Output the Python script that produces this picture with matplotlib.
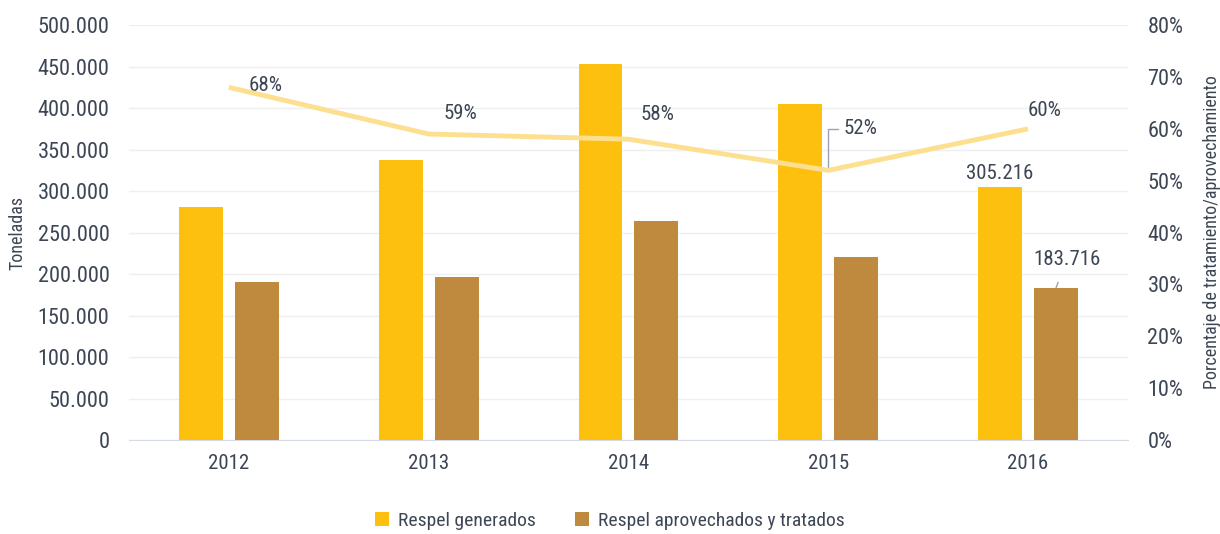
import matplotlib
matplotlib.use("Agg")
import matplotlib.pyplot as plt
from matplotlib import font_manager
from matplotlib.ticker import FuncFormatter, MultipleLocator
import numpy as np

years = ["2012", "2013", "2014", "2015", "2016"]
generados = [281000, 337000, 453000, 405000, 305216]
aprovechados = [191000, 197000, 264000, 221000, 183716]
porcentaje = [68, 59, 58, 52, 60]

names = {f.name for f in font_manager.fontManager.ttflist}
fam = "DejaVu Sans"
stretch = "normal"
for cand in ["Roboto Condensed", "Liberation Sans Narrow", "Open Sans Condensed"]:
    if cand in names:
        fam = cand
        break
else:
    stretch = "condensed"

plt.rcParams["font.family"] = [fam, "DejaVu Sans"]
plt.rcParams["font.stretch"] = stretch

txt = "#3d4654"
c_gen = "#FEC00F"
c_apr = "#BF8A3E"
c_line = "#FCE08F"

fig = plt.figure(figsize=(12.2, 5.34), dpi=100)
ax = fig.add_axes([0.1057, 0.176, 0.8189, 0.777])
x = np.arange(len(years))
w = 0.22
ax.bar(x - 0.14, generados, w, color=c_gen, label="Respel generados", zorder=3)
ax.bar(x + 0.14, aprovechados, w, color=c_apr, label="Respel aprovechados y tratados", zorder=3)
ax.set_xlim(-0.5, 4.5)
ax.set_ylim(0, 500000)
ax.yaxis.set_major_locator(MultipleLocator(50000))
ax.yaxis.set_major_formatter(FuncFormatter(lambda v, p: f"{int(v):,}".replace(",", ".")))
ax.grid(axis="y", color="#EFEFEF", linewidth=1, zorder=0)
ax.set_axisbelow(True)
for s in ["top", "right", "left"]:
    ax.spines[s].set_visible(False)
ax.spines["bottom"].set_color("#D5DCE4")
ax.set_xticks(x)
ax.set_xticklabels(years)
ax.tick_params(axis="x", length=0, labelsize=15, colors=txt, pad=10)
ax.tick_params(axis="y", length=0, labelsize=16, colors=txt, pad=14)
ax.set_ylabel("Toneladas", fontsize=13, color=txt, labelpad=8)

ax2 = ax.twinx()
ax2.plot(x, porcentaje, color=c_line, linewidth=3.5, zorder=4, solid_capstyle="butt")
ax2.set_ylim(0, 80)
ax2.yaxis.set_major_locator(MultipleLocator(10))
ax2.yaxis.set_major_formatter(FuncFormatter(lambda v, p: f"{int(v)}%"))
for s in ["top", "right", "left", "bottom"]:
    ax2.spines[s].set_visible(False)
ax2.tick_params(axis="y", length=0, labelsize=16, colors=txt, pad=14)
ax2.set_ylabel("Porcentaje de tratamiento/aprovechamiento", fontsize=13, color=txt, labelpad=14)

fs = 15
ax2.annotate(f"{porcentaje[0]}%", (x[0], porcentaje[0]), xytext=(14, 1.5), textcoords="offset points",
             fontsize=fs, color=txt, va="center")
ax2.annotate(f"{porcentaje[1]}%", (x[1], porcentaje[1]), xytext=(11, 14.5), textcoords="offset points",
             fontsize=fs, color=txt, va="center")
ax2.annotate(f"{porcentaje[2]}%", (x[2], porcentaje[2]), xytext=(9, 18), textcoords="offset points",
             fontsize=fs, color=txt, va="center")
ax2.annotate(f"{porcentaje[3]}%", (x[3], porcentaje[3]), xytext=(11, 30), textcoords="offset points",
             fontsize=fs, color=txt, va="center",
             arrowprops=dict(arrowstyle="-", color="#9AA3AE", lw=1,
                             connectionstyle="angle,angleA=0,angleB=90,rad=0",
                             shrinkA=2, shrinkB=0))
ax2.annotate(f"{porcentaje[4]}%", (x[4], porcentaje[4]), xytext=(0, 13.5), textcoords="offset points",
             fontsize=fs, color=txt, va="center")

ax.annotate(f"{generados[4]:,}".replace(",", "."), (x[4] - 0.14, generados[4]), xytext=(0, 9.5),
            textcoords="offset points", fontsize=fs, color=txt, ha="center", va="center")
ax.annotate(f"{aprovechados[4]:,}".replace(",", "."), (x[4] + 0.14, aprovechados[4]), xytext=(8, 20),
            textcoords="offset points", fontsize=fs, color=txt, ha="center", va="center",
            arrowprops=dict(arrowstyle="-", color="#9AA3AE", lw=1, shrinkA=8, shrinkB=0))

h1, l1 = ax.get_legend_handles_labels()
leg = fig.legend(h1, l1, loc="lower center", bbox_to_anchor=(0.5, -0.025), ncol=2, frameon=False,
                 fontsize=14, handlelength=0.7, handleheight=0.7, columnspacing=2.0, handletextpad=0.5)
for t in leg.get_texts():
    t.set_color(txt)

fig.savefig("out.png", dpi=100)
